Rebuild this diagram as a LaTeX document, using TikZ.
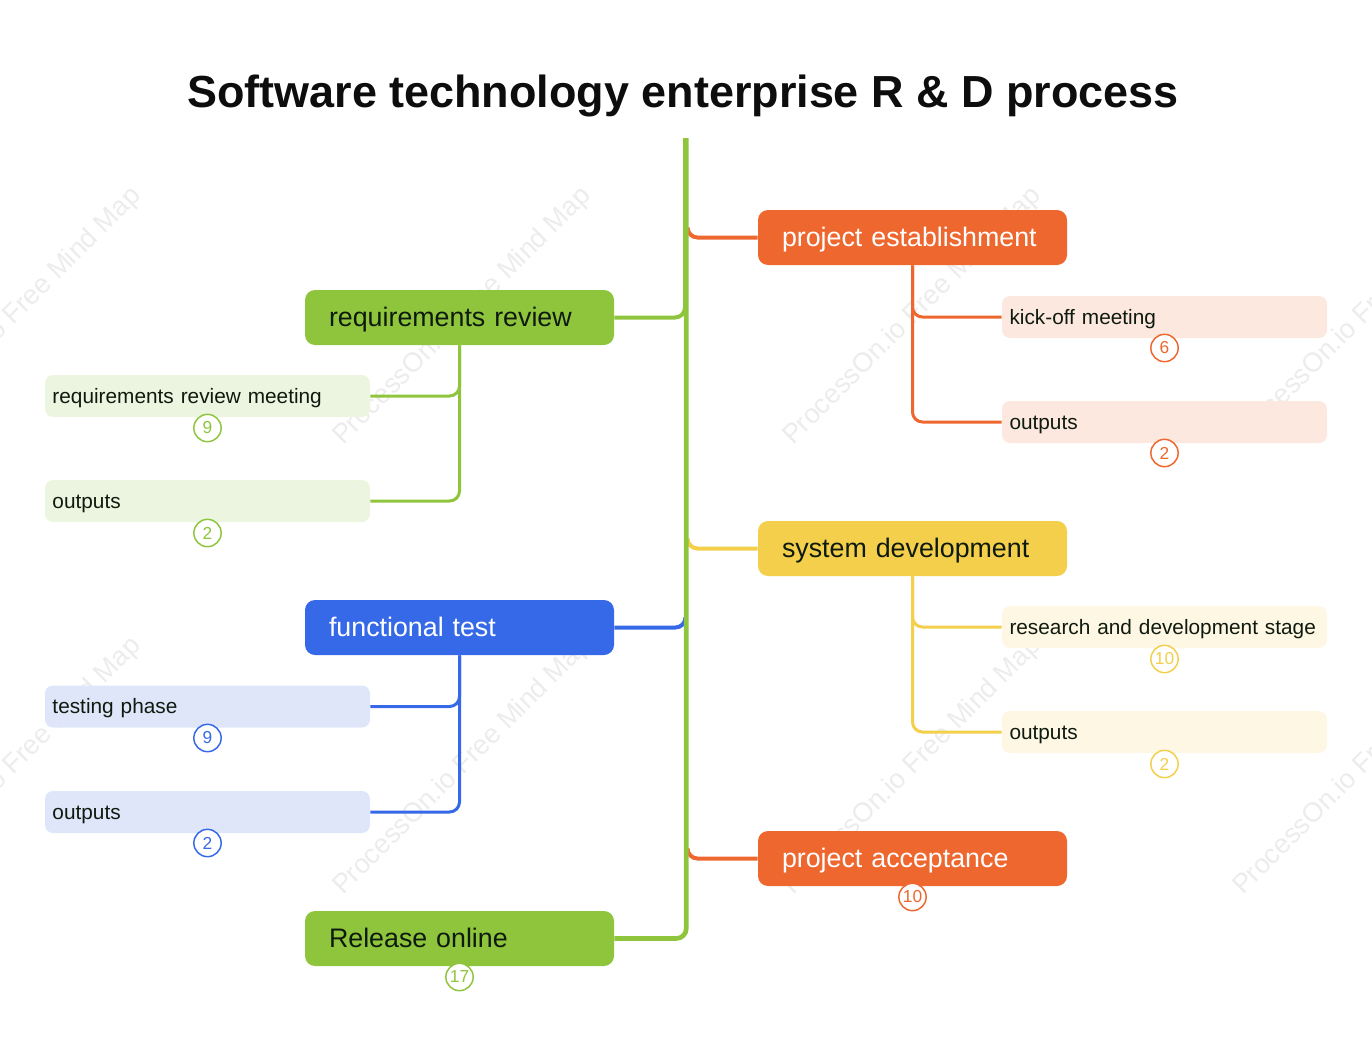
\documentclass[tikz,border=0pt]{standalone}
\usepackage{fontspec}
\setmainfont{Liberation Sans}
\definecolor{cgreen}{HTML}{8FC53D}
\definecolor{corange}{HTML}{EE672E}
\definecolor{cyellow}{HTML}{F3CF4B}
\definecolor{cblue}{HTML}{3669E7}
\definecolor{lgreen}{HTML}{ECF5E0}
\definecolor{lorange}{HTML}{FCE8DF}
\definecolor{lyellow}{HTML}{FEF7E4}
\definecolor{lblue}{HTML}{DFE6FA}
\definecolor{inkdark}{HTML}{0F1A0F}
\definecolor{wm}{HTML}{ECECEC}
\tikzset{
  x=.75pt,y=-.75pt,
  mainbox/.style={rounded corners=7.5pt,minimum width=231.75pt,minimum height=41.25pt,text width=195.75pt,inner sep=0pt,align=left,text height=17pt,text depth=4pt,font=\fontsize{20.1pt}{23pt}\selectfont},
  subbox/.style={rounded corners=6pt,minimum width=243.75pt,minimum height=31.5pt,text width=232.5pt,inner sep=0pt,align=left,text=inkdark,text height=14pt,text depth=3.5pt,font=\fontsize{15.6pt}{19pt}\selectfont},
  badge/.style={circle,draw=#1,fill=white,line width=1.1pt,text=#1,minimum size=20.5pt,inner sep=0pt,font=\fontsize{13pt}{15pt}\selectfont},
  trunkline/.style={draw=#1,line width=3pt,rounded corners=7.5pt},
  trunkmain/.style={draw=#1,line width=3.5pt,rounded corners=7.5pt},
  branch/.style={draw=#1,line width=2.25pt,rounded corners=7.5pt},
  watermark/.style={rotate=45,anchor=base west,inner sep=0pt,text=wm,font=\fontsize{20.3pt}{24pt}\selectfont},
}
\begin{document}
\begin{tikzpicture}
\useasboundingbox (0,0) rectangle (1372,1053);
\begin{scope}
\clip (0,138) rectangle (1372,1053);
\foreach \wx in {-107,343,793,1243}
  \foreach \wy in {446,896}
    \node[watermark] (wm\wx\wy) at (\wx,\wy) {ProcessOn.io Free Mind Map};
\end{scope}

\node[font=\bfseries\fontsize{33.7pt}{40pt}\selectfont,text=black!95] (title) at (683,96) {Software technology enterprise R \& D process};

% main topics
\node[mainbox,fill=corange,text=white] (pe) at (912.5,237.5) {project establishment};
\node[mainbox,fill=cyellow,text=inkdark] (sd) at (912.5,548.5) {system development};
\node[mainbox,fill=corange,text=white] (pa) at (912.5,858.5) {project acceptance};
\node[mainbox,fill=cgreen,text=inkdark] (rr) at (459.5,317.5) {requirements review};
\node[mainbox,fill=cblue,text=white] (ft) at (459.5,627.5) {functional test};
\node[mainbox,fill=cgreen,text=inkdark] (ro) at (459.5,938.5) {Release online};

% sub topics
\node[subbox,fill=lorange] (pe1) at (1164.5,317) {kick-off meeting};
\node[subbox,fill=lorange] (pe2) at (1164.5,422) {outputs};
\node[subbox,fill=lyellow] (sd1) at (1164.5,627) {research and development stage};
\node[subbox,fill=lyellow] (sd2) at (1164.5,732) {outputs};
\node[subbox,fill=lgreen] (rr1) at (207.5,396) {requirements review meeting};
\node[subbox,fill=lgreen] (rr2) at (207.5,501) {outputs};
\node[subbox,fill=lblue] (ft1) at (207.5,706.5) {testing phase};
\node[subbox,fill=lblue] (ft2) at (207.5,812) {outputs};

% trunk coordinates
\coordinate (top) at (686.3,138);
\coordinate (tpe) at (687.5,227.5);
\coordinate (tsd) at (687.5,538.5);
\coordinate (tpa) at (687.5,848.5);
\coordinate (trr) at (685,138);
\coordinate (tft) at (685.5,617.5);

% connectors
\draw[trunkline=corange] (tpe) |- (pe.west);
\draw[trunkline=cyellow] (tsd) |- (sd.west);
\draw[trunkline=corange] (tpa) |- (pa.west);
\draw[trunkline=cblue] (tft) |- (ft.east);
\draw[trunkline=cgreen] (trr) |- (rr.east);
\draw[trunkmain=cgreen] (top) |- (ro.east);

\draw[branch=corange] (pe.south) |- (pe1.west);
\draw[branch=corange] (pe.south) |- (pe2.west);
\draw[branch=cyellow] (sd.south) |- (sd1.west);
\draw[branch=cyellow] (sd.south) |- (sd2.west);
\draw[branch=cgreen] (rr.south) |- (rr1.east);
\draw[branch=cgreen] (rr.south) |- (rr2.east);
\draw[branch=cblue] (ft.south) |- (ft1.east);
\draw[branch=cblue] (ft.south) |- (ft2.east);

% badges
\node[badge=corange] (b1) at (1164.5,348) {6};
\node[badge=corange] (b2) at (1164.5,453) {2};
\node[badge=cyellow] (b3) at (1164.5,659) {10};
\node[badge=cyellow] (b4) at (1164.5,764) {2};
\node[badge=corange] (b5) at (912.5,897) {10};
\node[badge=cgreen] (b6) at (207.5,428) {9};
\node[badge=cgreen] (b7) at (207.5,533) {2};
\node[badge=cblue] (b8) at (207.5,738) {9};
\node[badge=cblue] (b9) at (207.5,843) {2};
\node[badge=cgreen] (b10) at (459.5,977) {17};
\end{tikzpicture}
\end{document}
